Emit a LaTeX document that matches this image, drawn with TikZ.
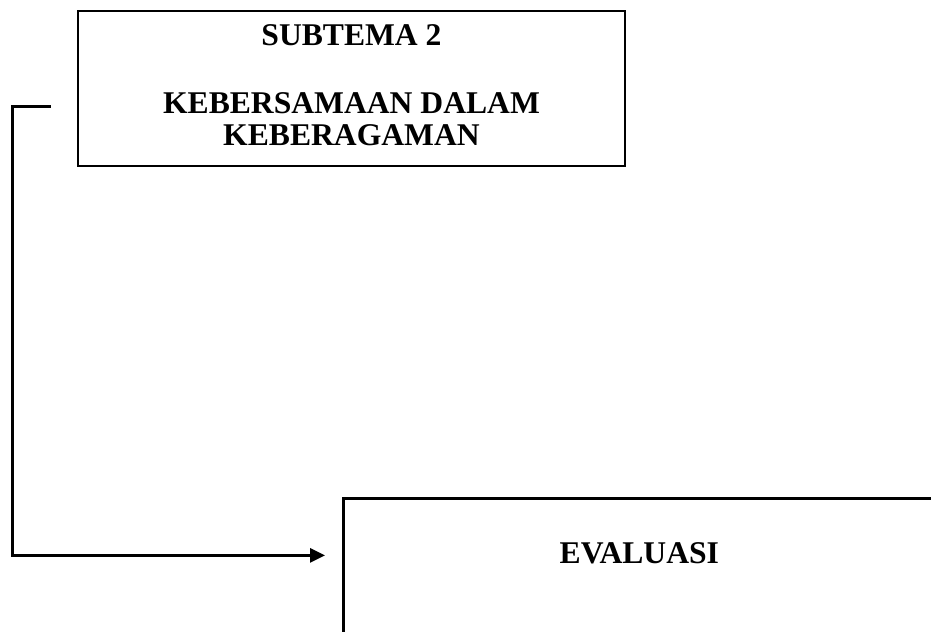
\documentclass[tikz,border=0pt]{standalone}
\usepackage{fontspec}
\setmainfont{Liberation Serif}
\usepackage{tikz}
\usetikzlibrary{arrows.meta, positioning, calc}

\begin{document}
\begin{tikzpicture}[
    x=0.02cm, y=-0.02cm,
    every node/.style={align=center},
    topbox/.style={rectangle, draw, line width=1.6pt, minimum width=10.94cm, minimum height=3.1cm, inner sep=0pt, text depth=0.14cm, font=\fontsize{18}{18.2}\selectfont\bfseries},
    evalbox/.style={rectangle, draw, line width=1.6pt, inner sep=0pt, text width=11.84cm, text height=1.3cm, text depth=3cm, font=\fontsize{18}{18.2}\selectfont\bfseries},
    flowarrow/.style={-{Triangle[length=0.3cm, width=0.28cm]}, line width=1.6pt}
]
\useasboundingbox (0,0) rectangle (931,632);
\clip (0,0) rectangle (931,632);

% kotak
\node[topbox] (subtema) at (351.5, 88.5) {SUBTEMA 2\\[20pt]KEBERSAMAAN DALAM\\KEBERAGAMAN};
\node[evalbox, anchor=north west] (evaluasi) at (342, 497) {EVALUASI};

% panah
\coordinate (stub) at ($(subtema.north west)+(-26, 97)$);
\draw[flowarrow, shorten >=0.34cm] (stub) -- ++(-38, 0) |- ([yshift=0.08cm]evaluasi.mid west);

\end{tikzpicture}
\end{document}
